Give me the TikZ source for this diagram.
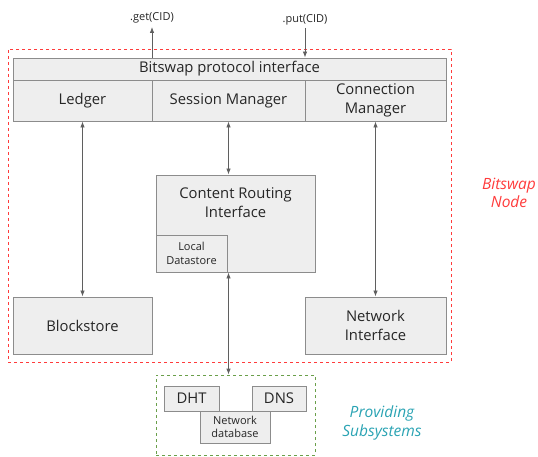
\documentclass[tikz,border=0pt]{standalone}
\usepackage{fontspec}
\setmainfont{Open Sans}
\usetikzlibrary{arrows.meta}

\definecolor{boxfill}{HTML}{EEEEEE}
\definecolor{boxline}{HTML}{8C8C8C}
\definecolor{arrowgray}{HTML}{5F5F5F}
\definecolor{nodered}{HTML}{FF3B3B}
\definecolor{subgreen}{HTML}{6A9F4A}
\definecolor{subteal}{HTML}{2AA3B3}

\tikzset{
  part/.style={shape=rectangle,draw=boxline,fill=boxfill,line width=0.9pt,
    inner sep=0pt,align=center,text=black!85,font=\fontsize{14.8}{18.5}\selectfont},
  smallpart/.style={part,font=\fontsize{11}{13.5}\selectfont},
  flow/.style={draw=arrowgray,line width=0.8pt,-{Latex[length=6pt,width=4.5pt]}},
  twoway/.style={draw=arrowgray,line width=0.8pt,{Latex[length=6pt,width=4.5pt]}-{Latex[length=6pt,width=4.5pt]}},
  group/.style={shape=rectangle,draw,dashed,line width=0.8pt,inner sep=0pt},
  grouplabel/.style={align=center,font=\fontsize{15.5}{18.5}\selectfont\itshape},
  call/.style={font=\fontsize{11}{13}\selectfont,text=black!85}
}

\begin{document}
\begin{tikzpicture}[x=1pt,y=-1pt]
\useasboundingbox (0,0) rectangle (538,457);

% outer groups
\path (229.5,205.5) node (bsnode) [group,draw=nodered,minimum width=443pt,minimum height=313pt] {};
\path (235.5,415) node (providing) [group,draw=subgreen,minimum width=159pt,minimum height=80pt] {};
\path (509,193) node (bsnodelabel) [grouplabel,text=nodered] {Bitswap\\Node};
\path (382,423) node (providinglabel) [grouplabel,text=subteal] {Providing\\Subsystems};

% protocol interface
\path (229.5,69) node (protocol) [part,minimum width=433pt,minimum height=22pt] {Bitswap protocol interface};
\path (82.5,100.5) node (ledger) [part,minimum width=139pt,minimum height=41pt] {Ledger};
\path (228.5,100.5) node (session) [part,minimum width=153pt,minimum height=41pt] {Session Manager};
\path (375.5,100.5) node (connmgr) [part,minimum width=141pt,minimum height=41pt] {Connection\\Manager};

% content routing
\path (235.5,223.5) node (routing) [part,minimum width=159pt,minimum height=97pt] {};
\path (235.5,202.5) node (routinglabel) [align=center,font=\fontsize{14.8}{19}\selectfont,text=black!85] {Content Routing\\Interface};
\path (191.5,253.5) node (datastore) [smallpart,minimum width=71pt,minimum height=37pt] {Local\\Datastore};

% stores
\path (82.5,325.5) node (blockstore) [part,minimum width=139pt,minimum height=57pt] {Blockstore};
\path (375.5,325.5) node (netif) [part,minimum width=141pt,minimum height=57pt] {Network\\Interface};

% providing subsystems
\path (191.5,398.5) node (dht) [part,minimum width=55pt,minimum height=25pt] {DHT};
\path (279,398.5) node (dns) [part,minimum width=54pt,minimum height=25pt] {DNS};
\path (235,427) node (netdb) [smallpart,minimum width=70pt,minimum height=32pt] {Network\\database};

% calls
\coordinate (gettip) at (152,27);
\coordinate (puttail) at (305,28);
\path (gettip) node (get) [call,above=0pt] {.get(CID)};
\path (puttail) node (put) [call,above=-1pt] {.put(CID)};

\draw [flow] (protocol.north -| gettip) to (gettip);
\draw [flow] (puttail) to (protocol.north -| puttail);

\draw [twoway] (ledger.south) to (blockstore.north);
\draw [twoway] (session.south) to (session.south |- routing.north);
\draw [twoway] (connmgr.south) to (netif.north);
\draw [twoway] (session.south |- routing.south) to (session.south |- providing.north);
\end{tikzpicture}
\end{document}
